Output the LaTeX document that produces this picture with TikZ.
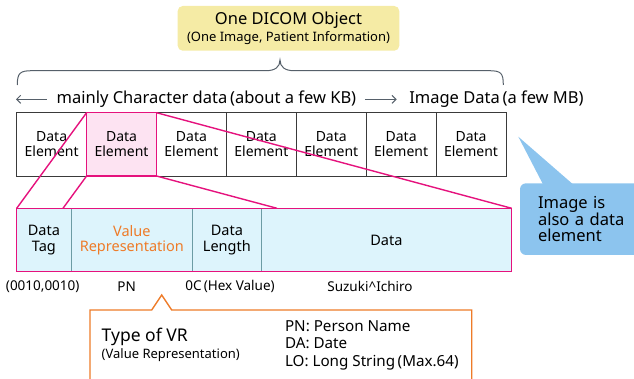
\documentclass[tikz,border=0pt]{standalone}
\usepackage{fontspec}
\setmainfont{Noto Sans}
\usetikzlibrary{positioning,calc,arrows.meta}
\definecolor{dcmpink}{HTML}{E5127D}
\definecolor{pickfill}{HTML}{FDE3F2}
\definecolor{fieldcyan}{HTML}{DDF4FC}
\definecolor{fieldline}{HTML}{6C9CA4}
\definecolor{objyellow}{HTML}{F5EBA5}
\definecolor{bracegray}{HTML}{56606A}
\definecolor{tablegray}{HTML}{3A3A3A}
\definecolor{noteblue}{HTML}{8CC4EE}
\definecolor{vrorange}{HTML}{EE7B28}

\begin{document}
\begin{tikzpicture}[x=1pt,y=-1pt,
      every node/.style = {inner sep=0pt, outer sep=0pt},
      element/.style = {draw=tablegray, line width=0.8pt, minimum width=69.9pt,
         minimum height=63.3pt, align=center, font=\fontsize{14}{15}\selectfont},
      field/.style = {fill=fieldcyan, draw=fieldline, line width=0.8pt,
         minimum height=63.4pt, align=center, font=\fontsize{14.5}{15.5}\selectfont},
      zoomline/.style = {draw=dcmpink, line width=1.4pt},
      gline/.style = {draw=bracegray, line width=1pt},
      garrow/.style = {gline, -{Straight Barb[length=4pt,width=8pt]}},
      rowtext/.style = {anchor=west, font=\fontsize{16.5}{18}\selectfont},
      sublabel/.style = {font=\fontsize{13.5}{16}\selectfont}
]
   \useasboundingbox (0,0) rectangle (634,379);

   % the whole object
   \node[fill=objyellow, rounded corners=5pt, minimum width=221.6pt,
      minimum height=44.7pt, align=center] (obj) at (288.5,28.35)
      {{\fontsize{16.5}{19}\selectfont One DICOM Object}\\[2pt]
       {\fontsize{13}{15}\selectfont (One Image, Patient Information)}};

   \draw[gline] (17.3,85) .. controls (17.3,73) and (20,70.7) .. (32,70.7)
      -- (266,70.7) .. controls (275,70.7) and (280,67) .. (280,60)
      .. controls (280,67) and (285,70.7) .. (294,70.7)
      -- (489,70.7) .. controls (501,70.7) and (503.3,73) .. (503.3,85);

   \node[rowtext] (chartxt) at (56.7,99.3) {mainly Character data\,(about a few KB)};
   \node[rowtext] (imgtxt) at (409.3,99.3) {Image Data\,(a few MB)};
   \coordinate (leftend) at (16,99.3);
   \draw[garrow] ([xshift=-10pt]chartxt.west) -- (leftend);
   \draw[garrow] ([xshift=8.7pt]chartxt.east) -- ([xshift=-12.6pt]imgtxt.west);

   % row of data elements
   \foreach \i in {1,...,7}
      \node[element] (de\i) at ({51.65+69.9*(\i-1)},144.35) {Data\\Element};
   \node[element, fill=pickfill, draw=dcmpink, line width=1.4pt] (pick) at (de2)
      {Data\\Element};

   % one element, opened up
   \node[field, minimum width=54.3pt] (tag) at (43.85,240) {Data\\Tag};
   \node[field, minimum width=121.7pt, text=vrorange, right=0pt of tag] (vr)
      {Value\\Representation};
   \node[field, minimum width=68.3pt, right=0pt of vr] (len) {Data\\Length};
   \node[field, minimum width=250.7pt, right=0pt of len] (dat) {Data};
   \draw[zoomline] (tag.north west) rectangle (dat.south east);

   \coordinate (lowL) at (63,208.3);
   \coordinate (lowR) at (277,208.3);
   \draw[zoomline] (pick.north west) -- (tag.north west);
   \draw[zoomline] (pick.south west) -- (lowL);
   \draw[zoomline] (pick.north east) -- (dat.north east);
   \draw[zoomline] (pick.south east) -- (lowR);

   \node[sublabel] (tagval) at (42.7,286.7) {(0010,0010)};
   \node[sublabel] (vrval) at (126.7,286.7) {PN};
   \node[sublabel] (lenval) at (230,286.7) {0C\,(Hex Value)};
   \node[sublabel] (datval) at (370,286.7) {Suzuki\textasciicircum Ichiro};

   % image note
   \node[fill=noteblue, rounded corners=6pt, minimum width=113pt,
      minimum height=71.7pt, text width=100pt, inner xsep=18pt, align=left,
      font=\fontsize{16.5}{16.7}\selectfont] (imgnote) at (588,219.15)
      {Image is\\also a data\\element};
   \coordinate (tailtip) at (518.3,136.7);
   \fill[noteblue] (tailtip) -- ([xshift=23pt,yshift=-1pt]imgnote.north west)
      -- ([xshift=53pt,yshift=-1pt]imgnote.north west) -- cycle;

   % VR types
   \coordinate (vrtip) at (161.7,295);
   \draw[vrorange, fill=white, line width=1.4pt, line join=miter]
      (90,392) -- (90,310) -- (151.7,310) -- (vrtip) -- (171.7,310)
      -- (471.7,310) -- (471.7,392);
   \node[anchor=west, font=\fontsize{17.5}{20}\selectfont] (vrtype) at (101.7,336.7)
      {Type of VR};
   \node[anchor=west, font=\fontsize{13}{15}\selectfont] (vrfull) at (101.7,355)
      {(Value Representation)};
   \node[anchor=north west, align=left, font=\fontsize{15.2}{17.5}\selectfont] (vrlist)
      at (285,320.5) {PN: Person Name\\DA: Date\\LO: Long String\,(Max.64)};
\end{tikzpicture}
\end{document}
